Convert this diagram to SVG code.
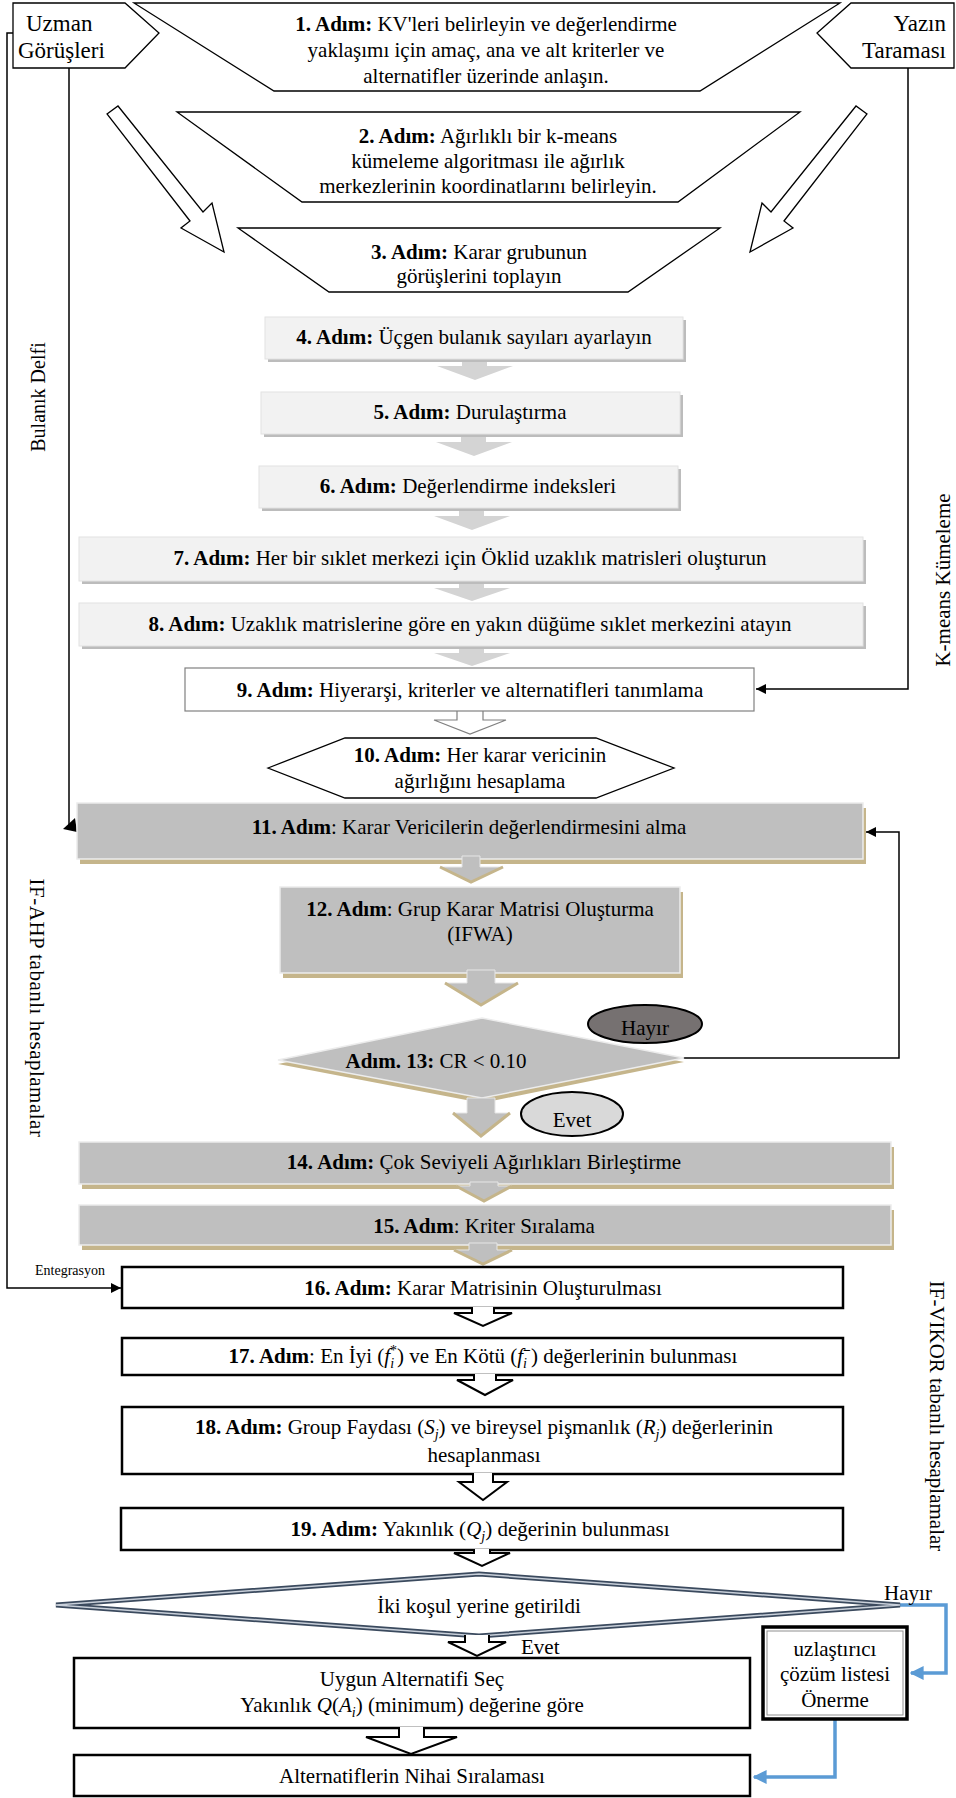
<svg xmlns="http://www.w3.org/2000/svg" width="956" height="1798" viewBox="0 0 956 1798">
<defs>
<marker id="ah" viewBox="0 0 10 10" refX="10" refY="5" markerWidth="10" markerHeight="10" markerUnits="userSpaceOnUse" orient="auto"><path d="M0,0 L10,5 L0,10 z" fill="#000"/></marker>
<marker id="ahb" viewBox="0 0 10 10" refX="9" refY="5" markerWidth="14" markerHeight="14" markerUnits="userSpaceOnUse" orient="auto"><path d="M0,0 L10,5 L0,10 z" fill="#5b9bd5"/></marker>
</defs>
<style>
.t{font-family:"Liberation Serif","Times New Roman",serif;font-size:21px;fill:#000;text-anchor:middle}
.s{text-anchor:start}
.e{text-anchor:end}
.b{font-weight:bold}
.i{font-style:italic}
.sm{font-size:14px}
.lg{font-size:23px}
.ol{fill:#fff;stroke:#000;stroke-width:1.3}
.lt{fill:#f2f2f2;stroke:#e2e2e2;stroke-width:1}
.lsh{fill:#bcbcbc}
.dk{fill:#bfbfbf;stroke:#ececec;stroke-width:1.5}
.tan{fill:#c5b58b}
.wb{fill:#fff;stroke:#000;stroke-width:2.5}
.ln{fill:none;stroke:#000;stroke-width:1.5}
.bl{fill:none;stroke:#5b9bd5;stroke-width:3.5}
.lch{fill:#d4d4d4}
.gch{fill:#bfbfbf;stroke:#e6e6e6;stroke-width:1}
.tch{fill:none;stroke:#c5b58b;stroke-width:3}
.hch{fill:#fff;stroke:#000;stroke-width:2}
.gh{fill:#fff;stroke:#808080;stroke-width:1.2}
</style>
<rect x="0" y="0" width="956" height="1798" fill="#fff"/>

<g id="connectors">
  <polygon class="ol" points="107,114 118,106 203,212 212,203 224,252 181,228 190,221"/>
  <polygon class="ol" points="867,114 856,106 771,212 762,203 750,252 793,228 784,221"/>
  <path class="ln" d="M69,68 V825"/>
  <polygon points="63,829 75,818 77,832" fill="#000"/>
  <path class="ln" d="M13,33 H7 V1288 H121" marker-end="url(#ah)"/>
  <path class="ln" d="M908,68 V689 H756" marker-end="url(#ah)"/>
  <path class="ln" d="M683,1058 H899 V832 H866" marker-end="url(#ah)"/>
  <path class="bl" d="M900,1605 H946 V1673 H911" marker-end="url(#ahb)"/>
  <path class="bl" d="M835,1720 V1777 H754" marker-end="url(#ahb)"/>
  <polygon class="lch" points="462,356 487,356 487,366 513,366 475,380 437,366 462,366"/>
  <polygon class="lch" points="461,432 486,432 486,442 512,442 474,456 436,442 461,442"/>
  <polygon class="lch" points="459,506 484,506 484,516 510,516 472,530 434,516 459,516"/>
  <polygon class="lch" points="459,580 484,580 484,588 510,588 472,601 434,588 459,588"/>
  <polygon class="lch" points="459,645 484,645 484,653 510,653 472,666 434,653 459,653"/>
  <path class="gh" d="M457,711 V720 H434 L470,734 L506,720 H483 V711"/>
</g>

<g id="uzman">
  <polygon class="ol" points="13,3 125,3 159,33 125,68 13,68"/>
  <text class="t s lg" x="26" y="31">Uzman</text>
  <text class="t s lg" x="18" y="58">Görüşleri</text>
</g>
<g id="yazin">
  <polygon class="ol" points="954,3 851,3 817,33 851,68 954,68"/>
  <text class="t e lg" x="946" y="31">Yazın</text>
  <text class="t e lg" x="946" y="58">Taraması</text>
</g>

<g id="step1">
  <polygon class="ol" points="134,3 840,3 700,91 274,91"/>
  <text class="t" x="486" y="31"><tspan class="b">1. Adım:</tspan> KV'leri belirleyin ve değerlendirme</text>
  <text class="t" x="486" y="57">yaklaşımı için amaç, ana ve alt kriterler ve</text>
  <text class="t" x="486" y="83">alternatifler üzerinde anlaşın.</text>
</g>
<g id="step2">
  <polygon class="ol" points="177,112 800,112 678,202 302,202"/>
  <text class="t" x="488" y="143"><tspan class="b">2. Adım:</tspan> Ağırlıklı bir k-means</text>
  <text class="t" x="488" y="168">kümeleme algoritması ile ağırlık</text>
  <text class="t" x="488" y="193">merkezlerinin koordinatlarını belirleyin.</text>
</g>
<g id="step3">
  <polygon class="ol" points="238,228 720,228 628,292 329,292"/>
  <text class="t" x="479" y="259"><tspan class="b">3. Adım:</tspan> Karar grubunun</text>
  <text class="t" x="479" y="283">görüşlerini toplayın</text>
</g>

<g id="step4">
  <rect class="lsh" x="268" y="320" width="418" height="42"/>
  <rect class="lt" x="265" y="317" width="418" height="42"/>
  <text class="t" x="474" y="344"><tspan class="b">4. Adım:</tspan> Üçgen bulanık sayıları ayarlayın</text>
</g>
<g id="step5">
  <rect class="lsh" x="264" y="395" width="419" height="42"/>
  <rect class="lt" x="261" y="392" width="419" height="42"/>
  <text class="t" x="470" y="419"><tspan class="b">5. Adım:</tspan> Durulaştırma</text>
</g>
<g id="step6">
  <rect class="lsh" x="262" y="469" width="419" height="42"/>
  <rect class="lt" x="259" y="466" width="419" height="42"/>
  <text class="t" x="468" y="493"><tspan class="b">6. Adım:</tspan> Değerlendirme indeksleri</text>
</g>
<g id="step7">
  <rect class="lsh" x="82" y="540" width="784" height="44"/>
  <rect class="lt" x="79" y="537" width="784" height="44"/>
  <text class="t" x="470" y="565"><tspan class="b">7. Adım:</tspan> Her bir sıklet merkezi için Öklid uzaklık matrisleri oluşturun</text>
</g>
<g id="step8">
  <rect class="lsh" x="82" y="606" width="784" height="43"/>
  <rect class="lt" x="79" y="603" width="784" height="43"/>
  <text class="t" x="470" y="631"><tspan class="b">8. Adım:</tspan> Uzaklık matrislerine göre en yakın düğüme sıklet merkezini atayın</text>
</g>

<g id="step9">
  <rect class="gh" x="185" y="668" width="569" height="43"/>
  <text class="t" x="470" y="697"><tspan class="b">9. Adım:</tspan> Hiyerarşi, kriterler ve alternatifleri tanımlama</text>
</g>

<g id="step10">
  <polygon fill="#fff" stroke="#000" stroke-width="1.3" points="268,768 345,738 596,738 674,768 596,798 345,798"/>
  <text class="t" x="480" y="762"><tspan class="b">10. Adım:</tspan> Her karar vericinin</text>
  <text class="t" x="480" y="788">ağırlığını hesaplama</text>
</g>

<g id="step11">
  <rect class="tan" x="80" y="808" width="786" height="56"/>
  <rect class="dk" x="77" y="803" width="786" height="56"/>
  <text class="t" x="469" y="834"><tspan class="b">11. Adım</tspan>: Karar Vericilerin değerlendirmesini alma</text>
</g>
<g class="chev">
  <polygon class="gch" points="462,856 480,856 480,867 503,867 471,882 440,867 462,867"/>
  <polyline class="tch" points="440,867 471,882 503,867"/>
</g>

<g id="step12">
  <rect class="tan" x="283" y="892" width="400" height="86"/>
  <rect class="dk" x="280" y="887" width="400" height="86"/>
  <text class="t" x="480" y="916"><tspan class="b">12. Adım</tspan>: Grup Karar Matrisi Oluşturma</text>
  <text class="t" x="480" y="941">(IFWA)</text>
</g>
<g class="chev">
  <polygon class="gch" points="467,970 495,970 495,983 518,983 481,1005 445,983 467,983"/>
  <polyline class="tch" points="445,983 481,1005 518,983"/>
</g>

<g id="step13">
  <polygon class="tan" points="278,1064 482,1022 684,1062 482,1103"/>
  <polygon class="dk" points="278,1060 482,1018 684,1058 482,1098"/>
  <text class="t" x="436" y="1068"><tspan class="b">Adım. 13:</tspan> CR &lt; 0.10</text>
</g>
<g id="hayir1">
  <ellipse cx="645" cy="1024" rx="57" ry="19" fill="#767171" stroke="#000" stroke-width="2"/>
  <text class="t" x="645" y="1035">Hayır</text>
</g>
<g class="chev">
  <polygon class="gch" points="467,1098 495,1098 495,1113 510,1113 481,1136 453,1113 467,1113"/>
  <polyline class="tch" points="453,1113 481,1136 510,1113"/>
</g>
<g id="evet1">
  <ellipse cx="572" cy="1114" rx="51" ry="22" fill="#d9d9d9" stroke="#000" stroke-width="2"/>
  <text class="t" x="572" y="1127">Evet</text>
</g>

<g id="step14">
  <rect class="tan" x="82" y="1147" width="812" height="42"/>
  <rect class="dk" x="79" y="1142" width="812" height="42"/>
  <text class="t" x="484" y="1169"><tspan class="b">14. Adım:</tspan> Çok Seviyeli  Ağırlıkları Birleştirme</text>
</g>
<g class="chev">
  <polygon class="gch" points="470,1182 498,1182 498,1186 512,1186 484,1201 456,1186 470,1186"/>
  <polyline class="tch" points="456,1186 484,1201 512,1186"/>
</g>
<g id="step15">
  <rect class="tan" x="82" y="1210" width="812" height="40"/>
  <rect class="dk" x="79" y="1205" width="812" height="40"/>
  <text class="t" x="484" y="1233"><tspan class="b">15. Adım</tspan>: Kriter Sıralama</text>
</g>
<g class="chev">
  <polygon class="gch" points="469,1243 497,1243 497,1250 512,1250 483,1264 454,1250 469,1250"/>
  <polyline class="tch" points="454,1250 483,1264 512,1250"/>
</g>

<text class="t sm" x="70" y="1275">Entegrasyon</text>

<g id="step16">
  <rect class="wb" x="122" y="1267" width="721" height="41"/>
  <text class="t" x="483" y="1295"><tspan class="b">16. Adım:</tspan> Karar Matrisinin Oluşturulması</text>
</g>
<path class="hch" d="M472,1307 V1313 H454 L483,1326 L512,1313 H494 V1307"/>

<g id="step17">
  <rect class="wb" x="122" y="1338" width="721" height="37"/>
  <text class="t" x="483" y="1363"><tspan class="b">17. Adım</tspan>: En İyi (<tspan class="i">f</tspan><tspan class="i sm" dy="5">i</tspan><tspan class="sm" dx="-4" dy="-13">*</tspan><tspan dy="8">) ve En Kötü (</tspan><tspan class="i">f</tspan><tspan class="i sm" dy="5">i</tspan><tspan class="sm b" dx="-4" dy="-13">−</tspan><tspan dy="8">) değerlerinin bulunması</tspan></text>
</g>
<path class="hch" d="M474,1374 V1380 H457 L485,1395 L513,1380 H496 V1374"/>

<g id="step18">
  <rect class="wb" x="122" y="1407" width="721" height="67"/>
  <text class="t" x="484" y="1434"><tspan class="b">18. Adım:</tspan> Group Faydası (<tspan class="i">S</tspan><tspan class="i sm" dy="5">j</tspan><tspan dy="-5">) ve bireysel pişmanlık (</tspan><tspan class="i">R</tspan><tspan class="i sm" dy="5">j</tspan><tspan dy="-5">) değerlerinin</tspan></text>
  <text class="t" x="484" y="1462">hesaplanması</text>
</g>
<path class="hch" d="M473,1473 V1482 H459 L483,1500 L507,1482 H493 V1473"/>

<g id="step19">
  <rect class="wb" x="121" y="1508" width="722" height="42"/>
  <text class="t" x="480" y="1536"><tspan class="b">19. Adım:</tspan> Yakınlık (<tspan class="i">Q</tspan><tspan class="i sm" dy="5">j</tspan><tspan dy="-5">) değerinin bulunması</tspan></text>
</g>
<path class="hch" d="M474,1549 V1553 H454 L482,1566 L510,1553 H490 V1549"/>

<g id="decision2">
  <polygon fill="#fff" stroke="#3b4a5e" stroke-width="5" points="56,1605 479,1574 900,1605 479,1636"/>
  <polygon fill="none" stroke="#c9d0da" stroke-width="1.5" points="56,1605 479,1574 900,1605 479,1636"/>
  <text class="t" x="479" y="1613">İki koşul yerine getirildi</text>
</g>
<text class="t" x="908" y="1600">Hayır</text>
<path class="hch" d="M465,1635 V1642 H448 L477,1656 L506,1642 H489 V1635"/>
<text class="t s" x="521" y="1654">Evet</text>

<g id="uygun">
  <rect class="wb" x="74" y="1658" width="676" height="70"/>
  <text class="t" x="412" y="1686">Uygun Alternatifi Seç</text>
  <text class="t" x="412" y="1712">Yakınlık <tspan class="i">Q</tspan>(<tspan class="i">A</tspan><tspan class="i sm" dy="5">i</tspan><tspan dy="-5">) (minimum) değerine göre</tspan></text>
</g>
<path class="hch" d="M399,1727 V1737 H366 L411,1754 L457,1737 H424 V1727"/>

<g id="final">
  <rect class="wb" x="74" y="1755" width="676" height="41"/>
  <text class="t" x="412" y="1783">Alternatiflerin Nihai Sıralaması</text>
</g>

<g id="uzlastirici">
  <rect fill="#fff" stroke="#000" stroke-width="3.5" x="763" y="1627" width="144" height="92"/>
  <rect fill="none" stroke="#909090" stroke-width="1" x="767" y="1631" width="136" height="84"/>
  <text class="t" x="835" y="1656">uzlaştırıcı</text>
  <text class="t" x="835" y="1681">çözüm listesi</text>
  <text class="t" x="835" y="1707">Önerme</text>
</g>

<g id="labels">
  <text class="t" transform="translate(45,397) rotate(-90)" style="font-size:20px">Bulanık Delfi</text>
  <text class="t" transform="translate(950,580) rotate(-90)">K-means Kümeleme</text>
  <text class="t" transform="translate(30,1008) rotate(90)" letter-spacing="0.5">IF-AHP tabanlı hesaplamalar</text>
  <text class="t" transform="translate(930,1416) rotate(90)">IF-VIKOR tabanlı hesaplamalar</text>
</g>
</svg>
